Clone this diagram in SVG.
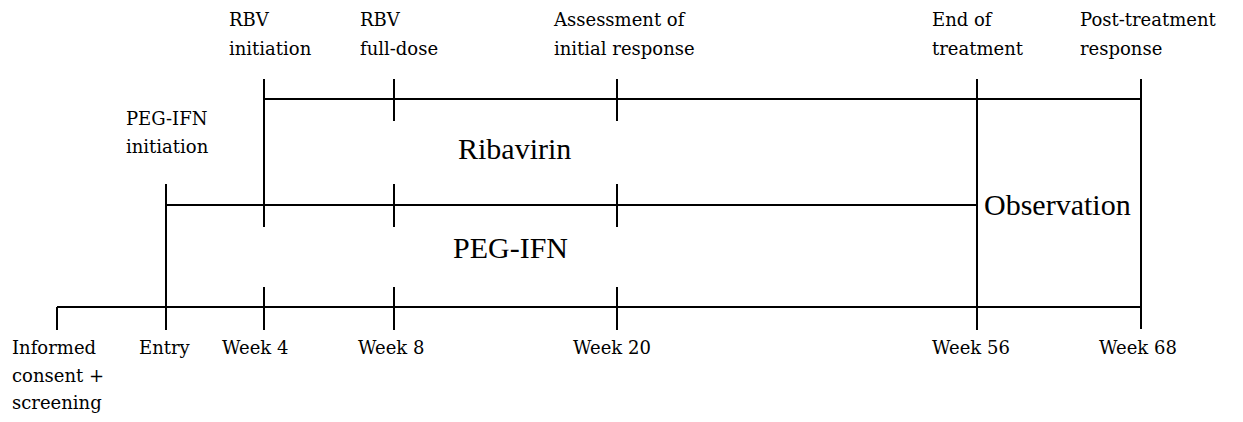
<svg xmlns="http://www.w3.org/2000/svg" width="1243" height="422" viewBox="0 0 1243 422">
<style>
.ln{stroke:#000;stroke-width:2;fill:none;stroke-linecap:butt}
.s{font-family:"DejaVu Serif","Liberation Serif",serif;font-size:18px;fill:#000}
.b{font-family:"Liberation Serif","DejaVu Serif",serif;font-size:30px;fill:#000}
</style>
<rect width="1243" height="422" fill="#fff"/>
<g id="connectors">
<line class="ln" x1="264" y1="99" x2="1141" y2="99"/>
<line class="ln" x1="166" y1="205" x2="977" y2="205"/>
<line class="ln" x1="57" y1="307" x2="1141" y2="307"/>
<line class="ln" x1="57" y1="307" x2="57" y2="330"/>
<line class="ln" x1="166" y1="184" x2="166" y2="330"/>
<line class="ln" x1="264" y1="79" x2="264" y2="227"/>
<line class="ln" x1="264" y1="287" x2="264" y2="330"/>
<line class="ln" x1="394" y1="79" x2="394" y2="121"/>
<line class="ln" x1="394" y1="184" x2="394" y2="227"/>
<line class="ln" x1="394" y1="287" x2="394" y2="330"/>
<line class="ln" x1="617" y1="79" x2="617" y2="121"/>
<line class="ln" x1="617" y1="184" x2="617" y2="227"/>
<line class="ln" x1="617" y1="287" x2="617" y2="330"/>
<line class="ln" x1="977" y1="79" x2="977" y2="330"/>
<line class="ln" x1="1141" y1="79" x2="1141" y2="329"/>
</g>
<g id="rbv-initiation"><text class="s" x="229" y="26">RBV</text><text class="s" x="229" y="55">initiation</text></g>
<g id="rbv-full-dose"><text class="s" x="360" y="26">RBV</text><text class="s" x="360" y="55">full-dose</text></g>
<g id="assessment"><text class="s" x="554" y="26">Assessment of</text><text class="s" x="554" y="55">initial response</text></g>
<g id="end-of-treatment"><text class="s" x="932" y="26">End of</text><text class="s" x="932" y="55">treatment</text></g>
<g id="post-treatment"><text class="s" x="1080" y="26">Post-treatment</text><text class="s" x="1080" y="55">response</text></g>
<g id="peg-ifn-initiation"><text class="s" x="126" y="125">PEG-IFN</text><text class="s" x="126" y="153">initiation</text></g>
<g id="ribavirin"><text class="b" x="458" y="159">Ribavirin</text></g>
<g id="peg-ifn"><text class="b" x="453" y="258">PEG-IFN</text></g>
<g id="observation"><text class="b" x="984" y="215">Observation</text></g>
<g id="screening"><text class="s" x="12" y="354">Informed</text><text class="s" x="12" y="382">consent +</text><text class="s" x="12" y="409">screening</text></g>
<g id="entry"><text class="s" x="139" y="354">Entry</text></g>
<g id="week4"><text class="s" x="222" y="354">Week 4</text></g>
<g id="week8"><text class="s" x="358" y="354">Week 8</text></g>
<g id="week20"><text class="s" x="573" y="354">Week 20</text></g>
<g id="week56"><text class="s" x="932" y="354">Week 56</text></g>
<g id="week68"><text class="s" x="1099" y="354">Week 68</text></g>
</svg>
